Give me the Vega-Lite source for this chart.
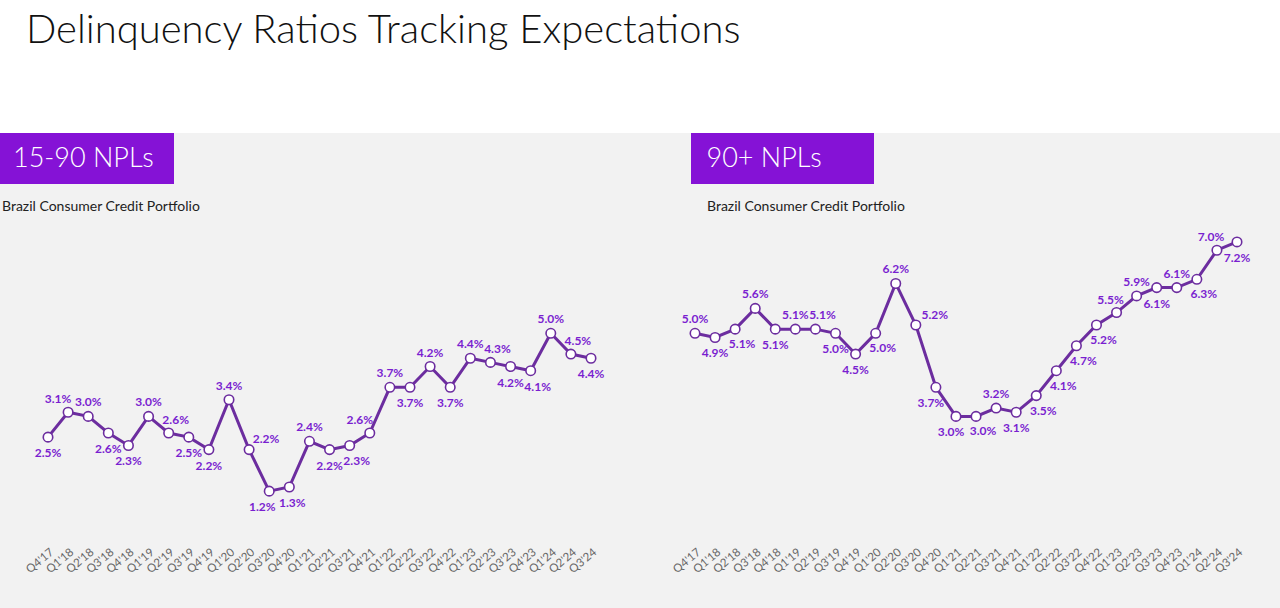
{
  "$schema": "https://vega.github.io/schema/vega-lite/v6.json",
  "background": "#f2f2f2",
  "padding": 0,
  "autosize": {"type": "pad"},
  "config": {"view": {"stroke": null}, "font": "Lato"},
  "datasets": {
    "npl1590": [
      {"quarter": "Q4'17", "pct": 2.5}, {"quarter": "Q1'18", "pct": 3.1}, {"quarter": "Q2'18", "pct": 3.0},
      {"quarter": "Q3'18", "pct": 2.6}, {"quarter": "Q4'18", "pct": 2.3}, {"quarter": "Q1'19", "pct": 3.0},
      {"quarter": "Q2'19", "pct": 2.6}, {"quarter": "Q3'19", "pct": 2.5}, {"quarter": "Q4'19", "pct": 2.2},
      {"quarter": "Q1'20", "pct": 3.4}, {"quarter": "Q2'20", "pct": 2.2}, {"quarter": "Q3'20", "pct": 1.2},
      {"quarter": "Q4'20", "pct": 1.3}, {"quarter": "Q1'21", "pct": 2.4}, {"quarter": "Q2'21", "pct": 2.2},
      {"quarter": "Q3'21", "pct": 2.3}, {"quarter": "Q4'21", "pct": 2.6}, {"quarter": "Q1'22", "pct": 3.7},
      {"quarter": "Q2'22", "pct": 3.7}, {"quarter": "Q3'22", "pct": 4.2}, {"quarter": "Q4'22", "pct": 3.7},
      {"quarter": "Q1'23", "pct": 4.4}, {"quarter": "Q2'23", "pct": 4.3}, {"quarter": "Q3'23", "pct": 4.2},
      {"quarter": "Q4'23", "pct": 4.1}, {"quarter": "Q1'24", "pct": 5.0}, {"quarter": "Q2'24", "pct": 4.5},
      {"quarter": "Q3'24", "pct": 4.4}
    ],
    "npl90": [
      {"quarter": "Q4'17", "pct": 5.0}, {"quarter": "Q1'18", "pct": 4.9}, {"quarter": "Q2'18", "pct": 5.1},
      {"quarter": "Q3'18", "pct": 5.6}, {"quarter": "Q4'18", "pct": 5.1}, {"quarter": "Q1'19", "pct": 5.1},
      {"quarter": "Q2'19", "pct": 5.1}, {"quarter": "Q3'19", "pct": 5.0}, {"quarter": "Q4'19", "pct": 4.5},
      {"quarter": "Q1'20", "pct": 5.0}, {"quarter": "Q2'20", "pct": 6.2}, {"quarter": "Q3'20", "pct": 5.2},
      {"quarter": "Q4'20", "pct": 3.7}, {"quarter": "Q1'21", "pct": 3.0}, {"quarter": "Q2'21", "pct": 3.0},
      {"quarter": "Q3'21", "pct": 3.2}, {"quarter": "Q4'21", "pct": 3.1}, {"quarter": "Q1'22", "pct": 3.5},
      {"quarter": "Q2'22", "pct": 4.1}, {"quarter": "Q3'22", "pct": 4.7}, {"quarter": "Q4'22", "pct": 5.2},
      {"quarter": "Q1'23", "pct": 5.5}, {"quarter": "Q2'23", "pct": 5.9}, {"quarter": "Q3'23", "pct": 6.1},
      {"quarter": "Q4'23", "pct": 6.1}, {"quarter": "Q1'24", "pct": 6.3}, {"quarter": "Q2'24", "pct": 7.0},
      {"quarter": "Q3'24", "pct": 7.2}
    ]
  },
  "spacing": 0,
  "vconcat": [
    {
      "width": 1280,
      "height": 133,
      "view": {"fill": "white", "stroke": null},
      "data": {"values": [{"t": "Delinquency Ratios Tracking Expectations"}]},
      "mark": {"type": "text", "align": "left", "baseline": "alphabetic", "dx": -614, "dy": -24, "fontSize": 40, "font": "Lato", "fontWeight": 300, "color": "#111111"},
      "encoding": {"text": {"field": "t"}}
    },
    {
      "spacing": 16,
      "vconcat": [
        {
          "spacing": 517,
          "hconcat": [
            {
              "width": 174,
              "height": 51,
              "view": {"fill": "#8512d6", "stroke": null},
              "data": {"values": [{"t": "15-90 NPLs"}]},
              "mark": {"type": "text", "align": "left", "dx": -74, "fontSize": 27, "font": "Lato", "fontWeight": 300, "color": "white"},
              "encoding": {"text": {"field": "t"}}
            },
            {
              "width": 183,
              "height": 51,
              "view": {"fill": "#8512d6", "stroke": null},
              "data": {"values": [{"t": "90+ NPLs"}]},
              "mark": {"type": "text", "align": "left", "dx": -76, "fontSize": 27, "font": "Lato", "fontWeight": 300, "color": "white"},
              "encoding": {"text": {"field": "t"}}
            }
          ]
        },
        {
          "spacing": 8,
          "hconcat": [
            {
              "width": 640,
              "height": 324,
              "title": {"text": "Brazil Consumer Credit Portfolio", "anchor": "start", "fontSize": 14, "fontWeight": "normal", "color": "#222222", "dx": 2, "offset": 3, "font": "Lato"},
              "data": {"name": "npl1590"},
              "transform": [{"calculate": "format(datum.pct, '.1f') + '%'", "as": "label"}],
              "encoding": {
                "x": {"field": "quarter", "type": "ordinal", "sort": null, "scale": {"type": "point", "range": [48, 591], "padding": 0},
                      "axis": {"title": null, "labelAngle": -40, "domain": false, "ticks": false, "labelFontSize": 11.5, "labelColor": "#666666", "labelPadding": 5, "labelFont": "Lato"}},
                "y": {"field": "pct", "type": "quantitative", "scale": {"domain": [0, 7.8], "nice": false}, "axis": null}
              },
              "layer": [
                {"mark": {"type": "line", "color": "#6c2d9f", "strokeWidth": 3}},
                {"mark": {"type": "point", "filled": true, "fill": "white", "stroke": "#6c2d9f", "strokeWidth": 1.6, "size": 90, "opacity": 1}},
                {"transform": [{"filter": {"field": "quarter", "oneOf": ["Q2'18", "Q1'19", "Q1'20", "Q1'21", "Q1'22", "Q3'22", "Q1'23", "Q1'24"]}}],
                 "mark": {"type": "text", "dy": -14, "fontSize": 12, "fontWeight": "bold", "font": "Lato", "color": "#7a1fd0"}, "encoding": {"text": {"field": "label"}}},
                {"transform": [{"filter": {"field": "quarter", "oneOf": ["Q1'18", "Q4'21"]}}],
                 "mark": {"type": "text", "dx": -10, "dy": -13, "fontSize": 12, "fontWeight": "bold", "font": "Lato", "color": "#7a1fd0"}, "encoding": {"text": {"field": "label"}}},
                {"transform": [{"filter": {"field": "quarter", "oneOf": ["Q2'19", "Q2'23", "Q2'24"]}}],
                 "mark": {"type": "text", "dx": 7, "dy": -13, "fontSize": 12, "fontWeight": "bold", "font": "Lato", "color": "#7a1fd0"}, "encoding": {"text": {"field": "label"}}},
                {"transform": [{"filter": {"field": "quarter", "oneOf": ["Q2'20"]}}],
                 "mark": {"type": "text", "dx": 17, "dy": -11, "fontSize": 12, "fontWeight": "bold", "font": "Lato", "color": "#7a1fd0"}, "encoding": {"text": {"field": "label"}}},
                {"transform": [{"filter": {"field": "quarter", "oneOf": ["Q4'17", "Q3'18", "Q4'18", "Q3'19", "Q4'19", "Q2'21", "Q2'22", "Q4'22", "Q3'23", "Q3'24"]}}],
                 "mark": {"type": "text", "dy": 16, "fontSize": 12, "fontWeight": "bold", "font": "Lato", "color": "#7a1fd0"}, "encoding": {"text": {"field": "label"}}},
                {"transform": [{"filter": {"field": "quarter", "oneOf": ["Q3'20"]}}],
                 "mark": {"type": "text", "dx": -7, "dy": 16, "fontSize": 12, "fontWeight": "bold", "font": "Lato", "color": "#7a1fd0"}, "encoding": {"text": {"field": "label"}}},
                {"transform": [{"filter": {"field": "quarter", "oneOf": ["Q4'20"]}}],
                 "mark": {"type": "text", "dx": 3, "dy": 16, "fontSize": 12, "fontWeight": "bold", "font": "Lato", "color": "#7a1fd0"}, "encoding": {"text": {"field": "label"}}},
                {"transform": [{"filter": {"field": "quarter", "oneOf": ["Q3'21", "Q4'23"]}}],
                 "mark": {"type": "text", "dx": 7, "dy": 16, "fontSize": 12, "fontWeight": "bold", "font": "Lato", "color": "#7a1fd0"}, "encoding": {"text": {"field": "label"}}}
              ]
            },
            {
              "width": 632,
              "height": 324,
              "title": {"text": "Brazil Consumer Credit Portfolio", "anchor": "start", "fontSize": 14, "fontWeight": "normal", "color": "#222222", "dx": 59, "offset": 3, "font": "Lato"},
              "data": {"name": "npl90"},
              "transform": [{"calculate": "format(datum.pct, '.1f') + '%'", "as": "label"}],
              "encoding": {
                "x": {"field": "quarter", "type": "ordinal", "sort": null, "scale": {"type": "point", "range": [47, 589], "padding": 0},
                      "axis": {"title": null, "labelAngle": -40, "domain": false, "ticks": false, "labelFontSize": 11.5, "labelColor": "#666666", "labelPadding": 5, "labelFont": "Lato"}},
                "y": {"field": "pct", "type": "quantitative", "scale": {"domain": [0, 7.8], "nice": false}, "axis": null}
              },
              "layer": [
                {"mark": {"type": "line", "color": "#6c2d9f", "strokeWidth": 3}},
                {"mark": {"type": "point", "filled": true, "fill": "white", "stroke": "#6c2d9f", "strokeWidth": 1.6, "size": 90, "opacity": 1}},
                {"transform": [{"filter": {"field": "quarter", "oneOf": ["Q4'17", "Q3'18", "Q1'19", "Q2'20", "Q3'21", "Q2'23", "Q4'23"]}}],
                 "mark": {"type": "text", "dy": -14, "fontSize": 12, "fontWeight": "bold", "font": "Lato", "color": "#7a1fd0"}, "encoding": {"text": {"field": "label"}}},
                {"transform": [{"filter": {"field": "quarter", "oneOf": ["Q2'19"]}}],
                 "mark": {"type": "text", "dx": 7, "dy": -14, "fontSize": 12, "fontWeight": "bold", "font": "Lato", "color": "#7a1fd0"}, "encoding": {"text": {"field": "label"}}},
                {"transform": [{"filter": {"field": "quarter", "oneOf": ["Q1'23", "Q2'24"]}}],
                 "mark": {"type": "text", "dx": -6, "dy": -13, "fontSize": 12, "fontWeight": "bold", "font": "Lato", "color": "#7a1fd0"}, "encoding": {"text": {"field": "label"}}},
                {"transform": [{"filter": {"field": "quarter", "oneOf": ["Q3'20"]}}],
                 "mark": {"type": "text", "dx": 19, "dy": -10, "fontSize": 12, "fontWeight": "bold", "font": "Lato", "color": "#7a1fd0"}, "encoding": {"text": {"field": "label"}}},
                {"transform": [{"filter": {"field": "quarter", "oneOf": ["Q1'18", "Q4'18", "Q3'19", "Q4'19", "Q4'21", "Q3'23", "Q3'24"]}}],
                 "mark": {"type": "text", "dy": 16, "fontSize": 12, "fontWeight": "bold", "font": "Lato", "color": "#7a1fd0"}, "encoding": {"text": {"field": "label"}}},
                {"transform": [{"filter": {"field": "quarter", "oneOf": ["Q4'20", "Q1'21"]}}],
                 "mark": {"type": "text", "dx": -5, "dy": 16, "fontSize": 12, "fontWeight": "bold", "font": "Lato", "color": "#7a1fd0"}, "encoding": {"text": {"field": "label"}}},
                {"transform": [{"filter": {"field": "quarter", "oneOf": ["Q2'18", "Q1'20", "Q2'21", "Q1'22", "Q2'22", "Q3'22", "Q4'22", "Q1'24"]}}],
                 "mark": {"type": "text", "dx": 7, "dy": 15, "fontSize": 12, "fontWeight": "bold", "font": "Lato", "color": "#7a1fd0"}, "encoding": {"text": {"field": "label"}}}
              ]
            }
          ]
        }
      ]
    },
    {
      "width": 1280,
      "height": 32,
      "data": {"values": []},
      "mark": "point"
    }
  ]
}
